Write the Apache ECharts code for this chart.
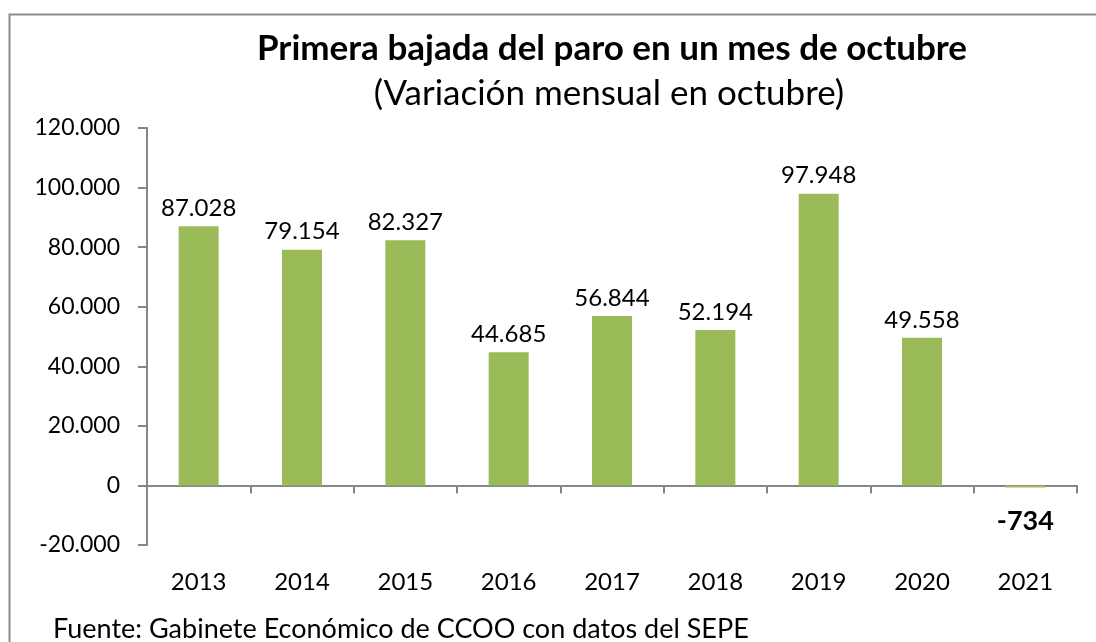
<!DOCTYPE html>
<html>
<head>
<meta charset="utf-8">
<script src="https://cdn.jsdelivr.net/npm/echarts@6/dist/echarts.min.js"></script>
<style>
  html, body { margin: 0; padding: 0; background: #fff; }
  #chart { width: 1096px; height: 642px; }
</style>
</head>
<body>
<div id="chart"></div>
<script>
// data
const years = ["2013", "2014", "2015", "2016", "2017", "2018", "2019", "2020", "2021"];
const variacion = [87028, 79154, 82327, 44685, 56844, 52194, 97948, 49558, -734];
const yTicks = [-20000, 0, 20000, 40000, 60000, 80000, 100000, 120000];

const fontFam = "Lato, 'Open Sans', sans-serif";
const axisGray = "#868686";

function fmt(v) {
  // spanish thousands separator
  const s = Math.abs(v).toString().replace(/\B(?=(\d{3})+(?!\d))/g, ".");
  return (v < 0 ? "-" : "") + s;
}

var chartDom = document.getElementById("chart");
var myChart = echarts.init(chartDom);

var option = {
  backgroundColor: "#ffffff",
  animation: false,
  title: [
    {
      text: "Primera bajada del paro en un mes de octubre",
      left: 607,
      textAlign: "center",
      top: 26,
      textStyle: { fontFamily: fontFam, fontSize: 35, fontWeight: "bold", color: "#000" },
    },
    {
      text: "(Variación mensual en octubre)",
      left: 604,
      textAlign: "center",
      top: 71,
      textStyle: { fontFamily: fontFam, fontSize: 35, fontWeight: "normal", color: "#000" },
    },
  ],
  graphic: [
    {
      type: "rect",
      shape: { x: 9.5, y: 14.5, width: 1200, height: 700 },
      style: { fill: "none", stroke: "#8c8c8c", lineWidth: 2 },
      silent: true,
    },
    {
      type: "text",
      left: 53,
      top: 616,
      style: {
        text: "Fuente: Gabinete Económico de CCOO con datos del SEPE",
        font: "27px " + fontFam,
        fill: "#000",
      },
    },
  ],
  grid: {
    left: 147,
    right: 19,
    top: 128,
    bottom: 97,
    containLabel: false,
    outerBoundsMode: "none",
  },
  xAxis: {
    type: "category",
    data: years,
    axisLine: { onZero: true, lineStyle: { color: axisGray, width: 2 } },
    axisTick: { show: true, alignWithLabel: false, length: 8, lineStyle: { color: axisGray, width: 2 } },
    axisLabel: {
      margin: 0,
      fontFamily: fontFam,
      fontSize: 24,
      color: "#000",
      // labels sit below the whole grid, not at the zero line
      padding: [25, 0, 0, 0],
    },
  },
  yAxis: {
    type: "value",
    min: -20000,
    max: 120000,
    interval: 20000,
    splitLine: { show: false },
    axisLine: { show: true, lineStyle: { color: axisGray, width: 2 } },
    axisTick: { show: true, length: 9, lineStyle: { color: axisGray, width: 2 } },
    axisLabel: {
      fontFamily: fontFam,
      fontSize: 23,
      color: "#000",
      margin: 27,
      formatter: function (v) {
        return yTicks.indexOf(v) >= 0 ? fmt(v) : "";
      },
    },
  },
  series: [
    {
      type: "bar",
      data: variacion.map(function (v) {
        if (v < 0) {
          return {
            value: v,
            label: {
              position: "bottom",
              distance: 20,
              fontWeight: "bold",
              fontSize: 27,
            },
          };
        }
        return v;
      }),
      barWidth: 40,
      itemStyle: { color: "#9bbb59" },
      label: {
        show: true,
        position: "top",
        distance: 6,
        fontFamily: fontFam,
        fontSize: 24,
        color: "#000",
        formatter: function (p) {
          return fmt(p.value);
        },
      },
    },
  ],
};

option && myChart.setOption(option);
</script>
</body>
</html>
